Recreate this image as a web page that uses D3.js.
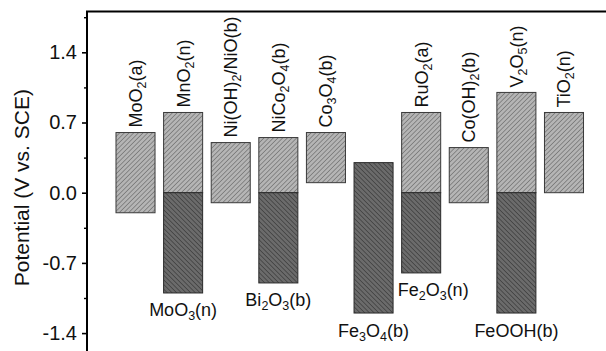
<!DOCTYPE html>
<html>
<head>
<meta charset="utf-8">
<script src="https://cdn.jsdelivr.net/npm/d3@7"></script>
<style>
  html, body { margin: 0; padding: 0; background: #fff; overflow: hidden; }
  svg { display: block; font-family: "Liberation Sans", Arial, sans-serif; }
</style>
</head>
<body>
<svg id="chart" width="606" height="351"></svg>
<script>
// Potential windows of electrode materials (V vs. SCE).
// {n} marks a subscript in a formula.
const slots = d3.range(10);

const positiveNames = ["MoO{2}(a)", "MnO{2}(n)", "Ni(OH){2}/NiO(b)", "NiCo{2}O{4}(b)", "Co{3}O{4}(b)",
                       null, "RuO{2}(a)", "Co(OH){2}(b)", "V{2}O{5}(n)", "TiO{2}(n)"];
const positiveLow  = [-0.2, 0.0, -0.1, 0.0, 0.1, null, 0.0, -0.1, 0.0, 0.0];
const positiveHigh = [0.6, 0.8, 0.5, 0.55, 0.6, null, 0.8, 0.45, 1.0, 0.8];

const negativeNames = [null, "MoO{3}(n)", null, "Bi{2}O{3}(b)", null,
                       "Fe{3}O{4}(b)", "Fe{2}O{3}(n)", null, "FeOOH(b)", null];
const negativeLow  = [null, -1.0, null, -0.9, null, -1.2, -0.8, null, -1.2, null];
const negativeHigh = [null, 0.0, null, 0.0, null, 0.3, 0.0, null, 0.0, null];

const yTicks = [-1.4, -0.7, 0.0, 0.7, 1.4];
const yMinorTicks = [-1.75, -1.05, -0.35, 0.35, 1.05, 1.75];
const yTitle = "Potential (V vs. SCE)";

// ---- layout ----
const svg = d3.select("#chart");
const plot = { left: 87, top: 11.5 };

const x = d3.scaleBand()
  .domain(slots)
  .range([111.7, 587.8])
  .paddingInner(0.18)
  .paddingOuter(0.09);

const y = d3.scaleLinear()
  .domain([-1.8, 1.81])
  .range([373.2, 11.2]);

// hatch patterns
const defs = svg.append("defs");
function hatch(id, bg, line, angle) {
  const p = defs.append("pattern")
    .attr("id", id)
    .attr("patternUnits", "userSpaceOnUse")
    .attr("width", 3.3).attr("height", 3.3)
    .attr("patternTransform", `rotate(${angle})`);
  p.append("rect").attr("width", 3.3).attr("height", 3.3).attr("fill", bg);
  p.append("line").attr("x1", 0).attr("y1", 0).attr("x2", 0).attr("y2", 3.3)
    .attr("stroke", line).attr("stroke-width", 1.1);
}
hatch("hatchLight", "#b5b5b5", "#5e5e5e", 45);
hatch("hatchDark", "#6b6b6b", "#2e2e2e", -45);

// rich text with subscripts
function writeFormula(textSel, str) {
  const parts = str.split(/(\{[^}]*\})/).filter(s => s.length);
  let shifted = false;
  parts.forEach(part => {
    const isSub = part.startsWith("{");
    const t = textSel.append("tspan").text(isSub ? part.slice(1, -1) : part);
    if (isSub) {
      t.attr("font-size", 12.5).attr("dy", shifted ? 0 : 4);
      shifted = true;
    } else {
      if (shifted) t.attr("dy", -4);
      shifted = false;
    }
  });
}

// ---- bars ----
const positive = slots.filter(i => positiveHigh[i] != null);
const negative = slots.filter(i => negativeHigh[i] != null);

svg.append("g").selectAll("rect")
  .data(positive)
  .join("rect")
  .attr("x", i => x(i))
  .attr("width", x.bandwidth())
  .attr("y", i => y(positiveHigh[i]))
  .attr("height", i => y(positiveLow[i]) - y(positiveHigh[i]))
  .attr("fill", "url(#hatchLight)")
  .attr("stroke", "#3a3a3a")
  .attr("stroke-width", 1);

svg.append("g").selectAll("rect")
  .data(negative)
  .join("rect")
  .attr("x", i => x(i))
  .attr("width", x.bandwidth())
  .attr("y", i => y(negativeHigh[i]))
  .attr("height", i => y(negativeLow[i]) - y(negativeHigh[i]))
  .attr("fill", "url(#hatchDark)")
  .attr("stroke", "#2a2a2a")
  .attr("stroke-width", 1);

// ---- labels ----
const labelColor = "#111";
svg.append("g").selectAll("text")
  .data(positive)
  .join("text")
  .attr("transform", i => `translate(${x(i) + x.bandwidth() / 2 + 6.5},${y(positiveHigh[i]) - 5}) rotate(-90)`)
  .attr("font-size", 18)
  .attr("fill", labelColor)
  .attr("text-anchor", "start")
  .each(function (i) { writeFormula(d3.select(this), positiveNames[i]); });

// Fe2O3 label sits right of its bar to clear the Fe3O4 bar
const labelShift = { 6: 12 };
svg.append("g").selectAll("text")
  .data(negative)
  .join("text")
  .attr("x", i => x(i) + x.bandwidth() / 2 + (labelShift[i] || 0))
  .attr("y", i => y(negativeLow[i]) + 23.5)
  .attr("font-size", 18)
  .attr("fill", labelColor)
  .attr("text-anchor", "middle")
  .each(function (i) { writeFormula(d3.select(this), negativeNames[i]); });

// ---- axes ----
const fmt = d3.formatLocale({ decimal: ".", thousands: ",", grouping: [3], currency: ["", ""], minus: "-" }).format(".1f");

const yAxis = svg.append("g")
  .attr("transform", `translate(${plot.left},0)`)
  .call(d3.axisLeft(y).tickValues(yTicks).tickFormat(fmt).tickSize(5).tickPadding(5));
yAxis.select(".domain").remove();
yAxis.selectAll(".tick line").attr("stroke", "#000").attr("stroke-width", 1.6);
yAxis.selectAll(".tick text")
  .attr("font-size", 20)
  .attr("font-family", "Liberation Sans, Arial, sans-serif")
  .attr("fill", "#111");

const yMinor = svg.append("g")
  .attr("transform", `translate(${plot.left},0)`)
  .call(d3.axisLeft(y).tickValues(yMinorTicks).tickFormat("").tickSize(3));
yMinor.select(".domain").remove();
yMinor.selectAll(".tick line").attr("stroke", "#000").attr("stroke-width", 1.4);

// frame
svg.append("rect")
  .attr("x", plot.left)
  .attr("y", plot.top)
  .attr("width", 700)
  .attr("height", 500)
  .attr("fill", "none")
  .attr("stroke", "#000")
  .attr("stroke-width", 2);

// axis title
svg.append("text")
  .attr("transform", `translate(29,${y(0.05)}) rotate(-90)`)
  .attr("text-anchor", "middle")
  .attr("font-size", 21)
  .attr("fill", "#111")
  .text(yTitle);
</script>
</body>
</html>
